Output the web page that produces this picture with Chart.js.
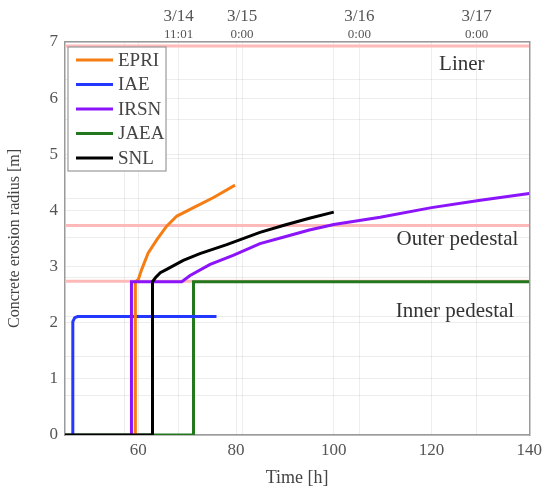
<!DOCTYPE html>
<html>
<head>
<meta charset="utf-8">
<script src="https://cdn.jsdelivr.net/npm/chart.js@4.4.0/dist/chart.umd.min.js"></script>
<style>
  html, body { margin: 0; padding: 0; background: #fff; }
</style>
</head>
<body>
<canvas id="erosion" width="547" height="490"></canvas>
<script>
// Radio de erosión del hormigón (tiempo [h], radio [m])
var seriesNames = ['EPRI', 'IAE', 'IRSN', 'JAEA', 'SNL'];

var epriTime   = [59.4, 59.4, 60.0, 60.7, 62.0, 63.8, 65.8, 67.9, 71.3, 75.4, 79.8];
var epriRadius = [0, 2.73, 2.77, 2.95, 3.24, 3.48, 3.72, 3.90, 4.05, 4.23, 4.45];

var iaeTime   = [46.6, 46.6, 47.0, 47.6, 76.0];
var iaeRadius = [0, 2.02, 2.09, 2.11, 2.11];

var irsnTime   = [58.6, 58.6, 68.9, 70.6, 74.7, 79.4, 84.9, 90, 95, 100, 109.5, 120, 130, 140];
var irsnRadius = [0, 2.73, 2.73, 2.84, 3.04, 3.20, 3.41, 3.53, 3.65, 3.75, 3.88, 4.05, 4.18, 4.30];

var jaeaTime   = [45, 71.3, 71.3, 140];
var jaeaRadius = [0, 0, 2.73, 2.73];

var snlTime   = [45, 62.9, 62.9, 63.5, 64.5, 65.8, 69.2, 72.6, 78.1, 84.9, 90, 95, 100];
var snlRadius = [0, 0, 2.73, 2.80, 2.89, 2.95, 3.11, 3.23, 3.39, 3.61, 3.74, 3.86, 3.97];

// niveles de referencia (liner, pedestal)
var levelNames  = ['Liner', 'Outer pedestal', 'Inner pedestal'];
var levelRadius = [6.93, 3.73, 2.74];
var levelLabelTime   = [126.2, 125.3, 124.8];
var levelLabelRadius = [6.6, 3.48, 2.2];

// ejes
var bottomTicks = [60, 80, 100, 120, 140];
var leftTicks = [0, 1, 2, 3, 4, 5, 6, 7];
var rightTicks = [0, 1, 2, 3, 4, 5, 6, 7, 8, 9];
var topTickHours = [57.23, 68.25, 81.23, 105.23, 129.23];
var topDateLabels = ['', '3/14', '3/15', '3/16', '3/17'];
var topTimeLabels = ['', '11:01', '0:00', '0:00', '0:00'];

var serif = "'Liberation Serif', 'DejaVu Serif', serif";
var gridColor = 'rgba(0, 0, 0, 0.07)';
var boxColor = '#9a9a9a';
var textColor = '#555';

function toPoints(t, r) {
    return t.map(function (v, i) { return { x: v, y: r[i] }; });
}

function fixedTicks(list) {
    return function (scale) {
        scale.ticks = list.map(function (v) { return { value: v }; });
    };
}

var levelSets = levelRadius.map(function (r) {
    return {
        label: '',
        isLevel: true,
        data: [{ x: 45, y: r }, { x: 140, y: r }],
        borderColor: 'rgba(255, 185, 185, 1)',
        borderWidth: 3,
        pointRadius: 0,
        order: 10
    };
});

var seriesSets = [
    { label: 'EPRI', data: toPoints(epriTime, epriRadius), borderColor: 'rgb(245, 125, 20)', order: 2 },
    { label: 'IAE',  data: toPoints(iaeTime, iaeRadius),   borderColor: 'rgb(35, 55, 255)',  order: 3 },
    { label: 'IRSN', data: toPoints(irsnTime, irsnRadius), borderColor: 'rgb(140, 20, 250)', order: 1 },
    { label: 'JAEA', data: toPoints(jaeaTime, jaeaRadius), borderColor: 'rgb(35, 120, 30)',  order: 4 },
    { label: 'SNL',  data: toPoints(snlTime, snlRadius),   borderColor: 'rgb(0, 0, 0)',      order: 0 }
];
seriesSets.forEach(function (d) {
    d.borderWidth = 3;
    d.pointRadius = 0;
    d.tension = 0;
    d.fill = false;
});

// leyenda con recuadro y rótulos de niveles
var boxLegend = {
    id: 'boxLegend',
    afterDatasetsDraw: function (chart) {
        var c = chart.ctx;
        var area = chart.chartArea;
        var x = chart.scales.x, y = chart.scales.y;
        c.save();

        c.font = '21px ' + serif;
        c.fillStyle = '#333';
        c.textAlign = 'center';
        c.textBaseline = 'middle';
        levelNames.forEach(function (name, i) {
            c.fillText(name, x.getPixelForValue(levelLabelTime[i]), y.getPixelForValue(levelLabelRadius[i]));
        });

        var left = area.left + 3, top = area.top + 5;
        var w = 98, h = 124;
        c.fillStyle = '#fff';
        c.fillRect(left, top, w, h);
        c.strokeStyle = boxColor;
        c.lineWidth = 1.2;
        c.strokeRect(left, top, w, h);

        c.font = '19px ' + serif;
        c.textAlign = 'left';
        seriesNames.forEach(function (name, i) {
            var ds = chart.data.datasets.filter(function (d) { return d.label === name; })[0];
            var cy = top + 13 + i * 24.5;
            c.strokeStyle = ds.borderColor;
            c.lineWidth = 3;
            c.beginPath();
            c.moveTo(left + 8, cy);
            c.lineTo(left + 45, cy);
            c.stroke();
            c.fillStyle = '#444';
            c.fillText(name, left + 50, cy + 1);
        });
        c.restore();
    }
};

var ctx = document.getElementById('erosion').getContext('2d');
var myChart = new Chart(ctx, {
    type: 'line',
    data: {
        datasets: levelSets.concat(seriesSets)
    },
    options: {
        responsive: false,
        animation: false,
        devicePixelRatio: 1,
        layout: { padding: 0 },
        plugins: {
            legend: { display: false },
            tooltip: { enabled: false }
        },
        scales: {
            x: {
                type: 'linear',
                position: 'bottom',
                min: 45,
                max: 140,
                afterBuildTicks: fixedTicks(bottomTicks),
                afterFit: function (s) { s.height = 55; },
                ticks: { font: { family: serif, size: 17 }, color: textColor, padding: 5, maxRotation: 0, autoSkip: false },
                grid: { color: gridColor, drawTicks: false },
                border: { color: boxColor, width: 1.5 },
                title: { display: true, text: 'Time [h]', font: { family: serif, size: 18 }, color: '#444', padding: { top: 0, bottom: 1 } }
            },
            x2: {
                type: 'linear',
                position: 'top',
                weight: 1,
                min: 45,
                max: 140,
                afterBuildTicks: fixedTicks(topTickHours),
                afterFit: function (s) { s.height = 16; },
                ticks: {
                    callback: function (v, i) { return topTimeLabels[i]; },
                    font: { family: serif, size: 13 }, color: textColor, padding: 0, maxRotation: 0, autoSkip: false
                },
                grid: { color: gridColor, drawTicks: false },
                border: { color: boxColor, width: 1.5 }
            },
            x3: {
                type: 'linear',
                position: 'top',
                weight: 2,
                min: 45,
                max: 140,
                afterBuildTicks: fixedTicks(topTickHours),
                afterFit: function (s) { s.height = 26; },
                ticks: {
                    callback: function (v, i) { return topDateLabels[i]; },
                    font: { family: serif, size: 17 }, color: textColor, padding: -9, maxRotation: 0, autoSkip: false
                },
                grid: { display: false },
                border: { display: false }
            },
            y: {
                min: 0,
                max: 7,
                afterBuildTicks: fixedTicks(leftTicks),
                afterFit: function (s) { s.width = 65; },
                ticks: { font: { family: serif, size: 17 }, color: textColor, padding: 7 },
                grid: { color: gridColor, drawTicks: false },
                border: { color: boxColor, width: 1.5 },
                title: { display: true, text: 'Concrete erosion radius [m]', font: { family: serif, size: 16 }, color: '#444', padding: { top: 5, bottom: 0 } }
            },
            y2: {
                position: 'right',
                min: 0,
                max: 9.95,
                afterBuildTicks: fixedTicks(rightTicks),
                afterFit: function (s) { s.width = 17.5; },
                ticks: { display: false },
                grid: { color: gridColor, drawTicks: false },
                border: { color: boxColor, width: 1.5 }
            }
        }
    },
    plugins: [boxLegend]
});
</script>
</body>
</html>
